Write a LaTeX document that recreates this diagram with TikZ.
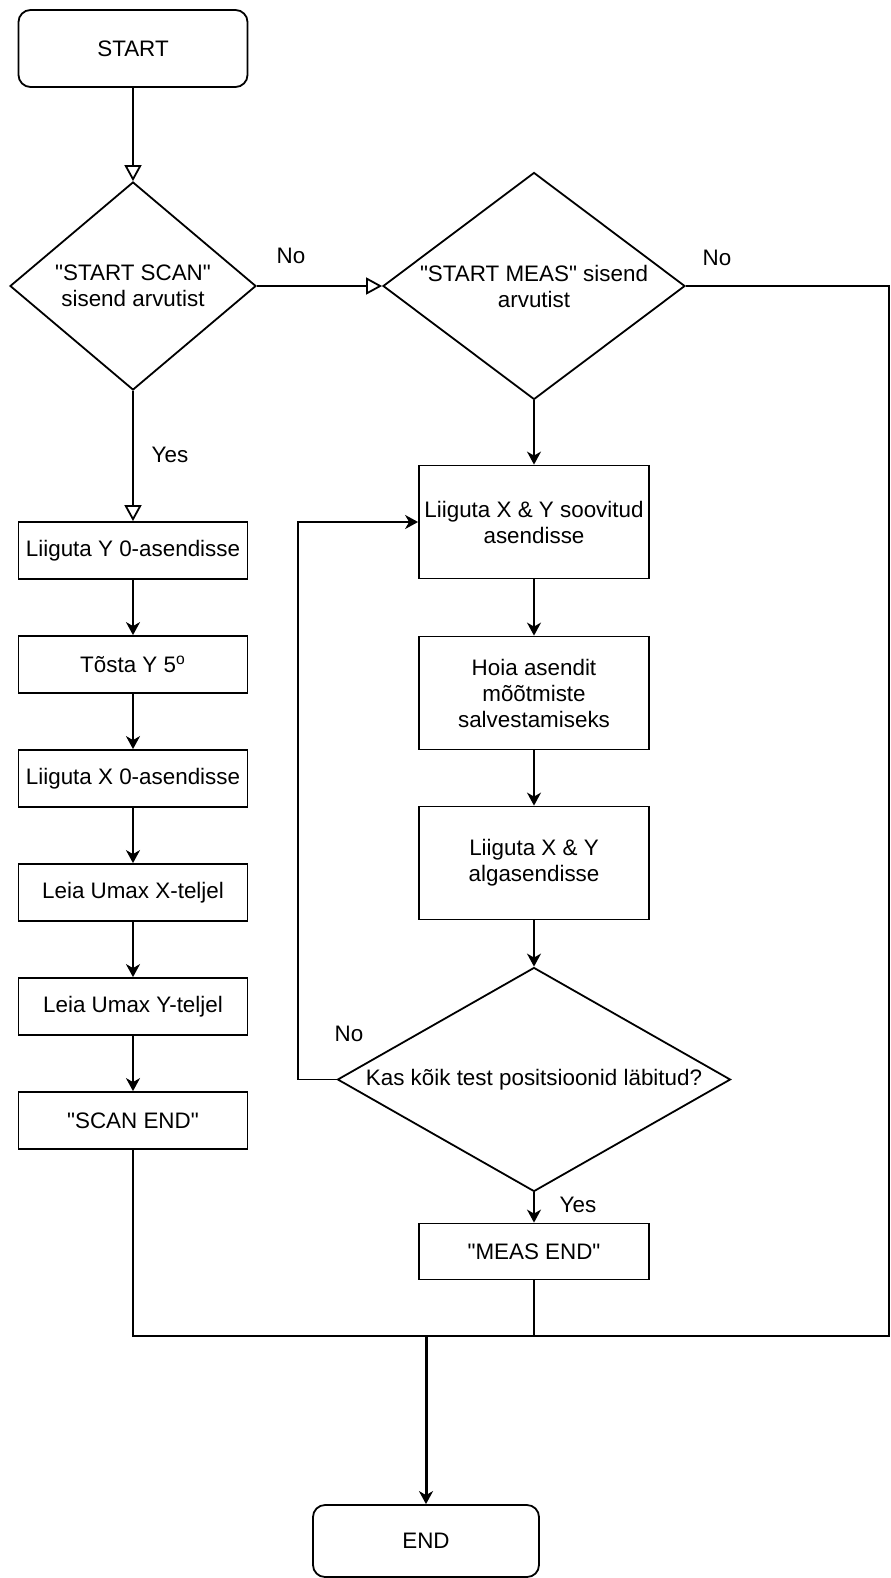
\documentclass[tikz,border=0pt]{standalone}
\usepackage{fontspec}
\setmainfont{Liberation Sans}
\usetikzlibrary{shapes.geometric,arrows.meta,positioning}

\begin{document}
\begin{tikzpicture}[x=0.5pt,y=-0.5pt,node distance=57pt,auto,
    line width=0.9pt,
    font=\fontsize{11.2}{13}\selectfont,
    term/.style={draw, rectangle, rounded corners=6pt, minimum width=114.5pt, minimum height=38.5pt},
    stepbox/.style={draw, rectangle, minimum width=114.5pt, minimum height=28.5pt, inner sep=0pt, align=center},
    bigbox/.style={draw, rectangle, minimum width=115pt, minimum height=56.5pt, inner sep=0pt, align=center},
    decision/.style={draw, diamond, inner sep=0pt, align=center},
    openarr/.style={-{Triangle[open,length=8pt,width=8.5pt]}},
    arr/.style={-{Stealth[length=6.5pt,width=7pt,inset=2pt]}}]
    \useasboundingbox (0,0) rectangle (890,1578);

    % Nodes
    \node [term] (start) at (133,48.5) {START};
    \node [decision, below of=start, node distance=118.75pt, shape aspect=1.18,
           minimum width=123pt, minimum height=104pt] (scan) {\textquotedbl START SCAN\textquotedbl\\sisend arvutist};
    \node [decision, right of=scan, node distance=200.5pt, shape aspect=1.33,
           minimum width=151pt, minimum height=113.5pt] (meas) {\textquotedbl START MEAS\textquotedbl{} sisend\\arvutist};

    \node [stepbox, below of=scan, node distance=132.25pt] (yzero) {Liiguta Y 0-asendisse};
    \node [stepbox, below of=yzero] (lift) {Tõsta Y 5\textsuperscript{o}};
    \node [stepbox, below of=lift] (xzero) {Liiguta X 0-asendisse};
    \node [stepbox, below of=xzero] (umaxx) {Leia Umax X-teljel};
    \node [stepbox, below of=umaxx] (umaxy) {Leia Umax Y-teljel};
    \node [stepbox, below of=umaxy] (scanend) {\textquotedbl SCAN END\textquotedbl};

    \node [bigbox, below of=meas, node distance=118pt] (move) {Liiguta X \& Y soovitud\\asendisse};
    \node [bigbox, below of=move, node distance=85.5pt] (hold) {Hoia asendit\\mõõtmiste\\salvestamiseks};
    \node [bigbox, below of=hold, node distance=85pt] (home) {Liiguta X \& Y\\algasendisse};
    \node [decision, below of=home, node distance=108.25pt, shape aspect=1.75,
           minimum width=196.5pt, minimum height=112pt] (check) {Kas kõik test positsioonid läbitud?};
    \node [stepbox, below of=check, node distance=86pt, minimum width=115pt, minimum height=28pt] (measend) {\textquotedbl MEAS END\textquotedbl};

    \node [term, minimum width=113pt, minimum height=36pt] (end) at (426,1541) {END};

    % Labels
    \node (noscan) at (291,256) {No};
    \node (nomeas) at (717,258) {No};
    \node (yesscan) at (170,455) {Yes};
    \node (nocheck) at (349,1034) {No};
    \node (yescheck) at (578,1205) {Yes};

    % Arrows
    \draw [openarr] (start) -- (scan);
    \draw [openarr] (scan) -- (meas);
    \draw [openarr] (scan) -- (yzero);
    \draw [arr] (yzero) -- (lift);
    \draw [arr] (lift) -- (xzero);
    \draw [arr] (xzero) -- (umaxx);
    \draw [arr] (umaxx) -- (umaxy);
    \draw [arr] (umaxy) -- (scanend);

    \draw [arr] (meas) -- (move);
    \draw [arr] (move) -- (hold);
    \draw [arr] (hold) -- (home);
    \draw [arr] (home) -- (check);
    \draw [arr] (check) -- (measend);
    \draw [arr] (check.west) -- ++(-39,0) |- (move.west);

    % Ends
    \coordinate (edgetop) at (889,286);
    \coordinate (edgebot) at (889,1336);
    \coordinate (join) at (426,1336);
    \draw (meas.east) -- (edgetop) -- (edgebot) -- (scanend.south |- edgebot) -- (scanend.south);
    \draw (measend.south) |- (join);
    \draw [line width=1.3pt] (join) -- (measend.south |- join);
    \draw [arr, line width=1.5pt] (join) -- (end);
\end{tikzpicture}
\end{document}
